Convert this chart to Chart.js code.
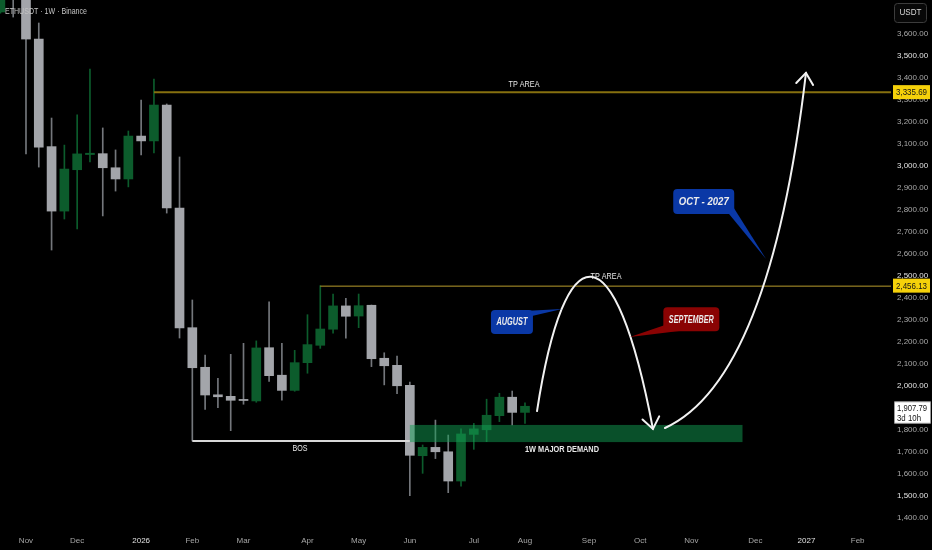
<!DOCTYPE html>
<html lang="en">
<head>
<meta charset="UTF-8">
<title>ETHUSDT 1W</title>
<script src="https://cdn.jsdelivr.net/npm/chart.js"></script>
<style>
  html, body { margin: 0; padding: 0; background: #000; }
  #wrap { width: 932px; height: 550px; position: relative; }
</style>
</head>
<body>
<div id="wrap"><canvas id="ethChart"></canvas></div>
<script>
// weekly candles, index 0 = first visible week (late Oct 2025)
const weekIndex = [0,1,2,3,4,5,6,7,8,9,10,11,12,13,14,15,16,17,18,19,20,
                   21,22,23,24,25,26,27,28,29,30,31,32,33,34,35,36,37,38,39,40,41];
const opens  = [3700,4000,3930,3577,3088,2795,2983,3052,3056,2992,2941,3136,3114,3277,2809,2265,2085,1960,1953,1939,1932,
                2174,2049,1980,2106,2185,2258,2364,2318,2367,2126,2094,2003,1683,1721,1701,1568,1780,1801,1865,1949,1880];
const highs  = [3900,4050,3960,3650,3218,3095,3232,3441,3173,3073,3159,3300,3395,3282,3041,2391,2141,2035,2144,2194,2205,
                2382,2194,2162,2324,2456,2418,2399,2418,2368,2151,2136,2018,1732,1845,1777,1805,1830,1940,1967,1977,1924];
const lows   = [3695,3677,3055,2995,2618,2759,2714,3018,2773,2886,2905,3050,3059,2786,2218,1750,1894,1901,1797,1917,1926,
                2021,1936,1976,2058,2171,2240,2217,2265,2088,2005,1965,1501,1603,1670,1515,1545,1712,1747,1838,1823,1830];
const closes = [3850,3930,3577,3086,2795,2986,3055,3058,2992,2941,3136,3114,3277,2809,2264,2083,1959,1951,1935,1934,2173,
                2047,1980,2106,2188,2259,2364,2317,2365,2124,2092,2001,1685,1721,1701,1568,1782,1805,1867,1949,1880,1907.79];

const monthTicks  = [2,6,11,15,19,24,28,32,37,41,46,50,54,59,63,67];
const monthLabels = ['Nov','Dec','2026','Feb','Mar','Apr','May','Jun','Jul','Aug','Sep','Oct','Nov','Dec','2027','Feb'];
const priceTicks  = [1400,1500,1600,1700,1800,1900,2000,2100,2200,2300,2400,2500,
                     2600,2700,2800,2900,3000,3100,3200,3300,3400,3500,3600];
const brightPrices = [1500,2000,2500,3000,3500];

const tpHigh = 3335.69, tpLow = 2456.13, lastPrice = 1907.79, bosLevel = 1750;

const fontFam = "'Liberation Sans', 'Noto Sans', sans-serif";
const upBody = '#0c5c2c', downBody = '#a3a5aa', downWick = '#74777c';

const isUp = k => closes[k] >= opens[k] && k !== 19;

const bodyData = weekIndex.map((w, k) => ({x: w, y: [opens[k], closes[k]]}));
const wickData = weekIndex.map((w, k) => ({x: w, y: [lows[k], highs[k]]}));

const fmt = v => v.toLocaleString('en-US', {minimumFractionDigits: 2, maximumFractionDigits: 2});

// drawn on top of the candles, in data coordinates
const textNotes = [
  {text: 'TP AREA', x: 40.92, price: tpHigh, dy: -8, w: 31},
  {text: 'TP AREA', x: 47.33, price: tpLow, dy: -9, w: 31},
  {text: 'BOS', x: 23.42, price: bosLevel, dy: 7, w: 15},
  {text: '1W MAJOR DEMAND', x: 43.89, price: 1745, dy: 7, w: 74}
];
const curves = [
  [[41.94,1886],[44.13,2709],[48.03,2718],[51.0,1805]],
  [[51.94,1809],[60.15,2027],[62.96,3423]]
];
const callouts = [
  {text: 'AUGUST', x: 39.98, price: 2291, w: 42, h: 24, fill: '#0a38a6', tip: [43.89, 2350], base: 'tr', size: 10},
  {text: 'SEPTEMBER', x: 54.0, price: 2303, w: 56, h: 24, fill: '#8a0303', tip: [49.2, 2223], base: 'bl', size: 10},
  {text: 'OCT - 2027', x: 54.97, price: 2839, w: 61, h: 25, fill: '#0a38a6', tip: [59.84, 2577], base: 'br', size: 11}
];

function arrowHead(ctx, tx, ty, fx, fy, len, ang) {
  const a = Math.atan2(fy - ty, fx - tx);
  ctx.beginPath();
  ctx.moveTo(tx + len * Math.cos(a + ang), ty + len * Math.sin(a + ang));
  ctx.lineTo(tx, ty);
  ctx.lineTo(tx + len * Math.cos(a - ang), ty + len * Math.sin(a - ang));
  ctx.stroke();
}

const overlay = {
  id: 'overlay',
  afterDatasetsDraw(chart) {
    const {ctx, chartArea: a, scales: {x, y}} = chart;
    const X = v => x.getPixelForValue(v), Y = v => y.getPixelForValue(v);
    ctx.save();
    ctx.beginPath();
    ctx.rect(a.left, a.top, a.right - a.left, a.bottom - a.top);
    ctx.clip();

    // demand zone
    ctx.fillStyle = 'rgba(18,160,84,0.5)';
    ctx.fillRect(X(32), Y(1823), X(58) - X(32), Y(1745) - Y(1823));

    // TP lines
    ctx.strokeStyle = '#86700f';
    ctx.lineWidth = 2;
    ctx.beginPath(); ctx.moveTo(X(12), Y(tpHigh)); ctx.lineTo(a.right, Y(tpHigh)); ctx.stroke();
    ctx.strokeStyle = '#b89c2c';
    ctx.lineWidth = 1;
    ctx.beginPath(); ctx.moveTo(X(25), Y(tpLow) + 0.5); ctx.lineTo(a.right, Y(tpLow) + 0.5); ctx.stroke();

    // BOS line
    ctx.strokeStyle = '#d8d8d8';
    ctx.lineWidth = 2;
    ctx.beginPath(); ctx.moveTo(X(15), Y(bosLevel)); ctx.lineTo(X(32), Y(bosLevel)); ctx.stroke();

    // curves
    ctx.strokeStyle = '#f2f2f2';
    ctx.lineWidth = 2;
    ctx.lineCap = 'round';
    curves.forEach(c => {
      const p = c.map(q => [X(q[0]), Y(q[1])]);
      ctx.beginPath();
      ctx.moveTo(p[0][0], p[0][1]);
      if (p.length === 4) ctx.bezierCurveTo(p[1][0], p[1][1], p[2][0], p[2][1], p[3][0], p[3][1]);
      else ctx.quadraticCurveTo(p[1][0], p[1][1], p[2][0], p[2][1]);
      ctx.stroke();
      const e = p[p.length - 1], f = p[p.length - 2];
      arrowHead(ctx, e[0], e[1], f[0], f[1], 14, 0.65);
    });

    // callouts
    callouts.forEach(c => {
      const cx = X(c.x), cy = Y(c.price);
      const l = cx - c.w / 2, t = cy - c.h / 2, r = cx + c.w / 2, b = cy + c.h / 2;
      let b1, b2;
      if (c.base === 'tr') { b1 = [r - 9, t + 1]; b2 = [r - 1, t + 6]; }
      else if (c.base === 'bl') { b1 = [l + 1, b - 6]; b2 = [l + 22, b - 1]; }
      else { b1 = [r - 6, b - 1]; b2 = [r - 1, b - 7]; }
      ctx.fillStyle = c.fill;
      ctx.beginPath();
      ctx.moveTo(b1[0], b1[1]); ctx.lineTo(X(c.tip[0]), Y(c.tip[1])); ctx.lineTo(b2[0], b2[1]);
      ctx.closePath(); ctx.fill();
      ctx.beginPath(); ctx.roundRect(l, t, c.w, c.h, 4); ctx.fill();
      ctx.fillStyle = '#ececec';
      ctx.font = `italic 600 ${c.size}px ${fontFam}`;
      ctx.textAlign = 'center'; ctx.textBaseline = 'middle';
      ctx.fillText(c.text, cx, cy + 0.5, c.w - 11);
    });

    // text notes
    ctx.fillStyle = '#e8e8e8';
    ctx.textAlign = 'center'; ctx.textBaseline = 'middle';
    textNotes.forEach(n => {
      ctx.font = `${n.text.startsWith('1W') ? '600 ' : ''}9.5px ${fontFam}`;
      ctx.fillText(n.text, X(n.x), Y(n.price) + n.dy, n.w);
    });
    ctx.restore();
  },
  afterDraw(chart) {
    const {ctx, chartArea: a, scales: {y}} = chart;
    const W = chart.width;
    ctx.save();
    ctx.textBaseline = 'middle';
    // title
    ctx.fillStyle = '#c4c4c4';
    ctx.font = `9.5px ${fontFam}`;
    ctx.textAlign = 'left';
    ctx.fillText('ETHUSDT \u00b7 1W \u00b7 Binance', 5, 11, 82);
    // USDT box
    ctx.fillStyle = '#080808';
    ctx.strokeStyle = '#3c3c3c';
    ctx.lineWidth = 1;
    ctx.beginPath(); ctx.roundRect(894.5, 3.5, 32, 19, 3); ctx.fill(); ctx.stroke();
    ctx.fillStyle = '#d8d8d8';
    ctx.font = `8.5px ${fontFam}`;
    ctx.textAlign = 'center';
    ctx.fillText('USDT', 910.5, 13, 22);
    // price tags
    const tagMid = (a.right + W) / 2;
    [tpHigh, tpLow].forEach(p => {
      const py = y.getPixelForValue(p);
      ctx.fillStyle = '#f5d10a';
      ctx.fillRect(a.right + 2, py - 7, W - a.right - 4, 14);
      ctx.fillStyle = '#151515';
      ctx.font = `9px ${fontFam}`;
      ctx.textAlign = 'center';
      ctx.fillText(fmt(p), tagMid, py + 0.5, 31);
    });
    const ly = y.getPixelForValue(lastPrice);
    ctx.fillStyle = '#ffffff';
    ctx.strokeStyle = '#9a9a9a';
    ctx.beginPath(); ctx.rect(a.right + 3.5, ly - 4.5, W - a.right - 5, 21.5); ctx.fill(); ctx.stroke();
    ctx.fillStyle = '#151515';
    ctx.font = `9px ${fontFam}`;
    ctx.textAlign = 'left';
    ctx.fillText(fmt(lastPrice), a.right + 6, ly + 2, 30);
    ctx.fillText('3d 10h', a.right + 6, ly + 12, 24);
    ctx.restore();
  }
};

new Chart(document.getElementById('ethChart'), {
  type: 'bar',
  data: {
    datasets: [
      {
        label: 'body',
        data: bodyData,
        grouped: false,
        barThickness: 9,
        borderWidth: 0,
        backgroundColor: c => isUp(c.dataIndex) ? upBody : downBody
      },
      {
        label: 'wick',
        data: wickData,
        grouped: false,
        barThickness: 1,
        borderWidth: 0,
        backgroundColor: c => isUp(c.dataIndex) ? upBody : downWick
      }
    ]
  },
  options: {
    responsive: true,
    maintainAspectRatio: false,
    animation: false,
    layout: {padding: 0},
    plugins: {legend: {display: false}, tooltip: {enabled: false}},
    scales: {
      x: {
        type: 'linear',
        min: -0.031,
        max: 69.606,
        offset: false,
        grid: {display: false, drawTicks: false},
        border: {display: false},
        afterBuildTicks: s => { s.ticks = monthTicks.map(v => ({value: v})); },
        afterFit: s => { s.height = 22; s.paddingLeft = 0; s.paddingRight = 0; },
        ticks: {
          autoSkip: false,
          maxRotation: 0,
          padding: 8,
          font: {family: fontFam, size: 8},
          color: c => (c.index === 2 || c.index === 14) ? '#e0e0e0' : '#a6a6a6',
          callback: (v, i) => monthLabels[i]
        }
      },
      y: {
        position: 'right',
        min: 1354.5,
        max: 3754.5,
        grid: {display: false, drawTicks: false},
        border: {display: false},
        afterBuildTicks: s => { s.ticks = priceTicks.map(v => ({value: v})); },
        afterFit: s => { s.width = 41; s.paddingTop = 0; s.paddingBottom = 0; },
        ticks: {
          autoSkip: false,
          padding: 6,
          font: {family: fontFam, size: 8},
          color: c => brightPrices.includes(c.tick.value) ? '#e2e2e2' : '#a8a8a8',
          callback: v => fmt(v)
        }
      }
    }
  },
  plugins: [overlay]
});
</script>
</body>
</html>
